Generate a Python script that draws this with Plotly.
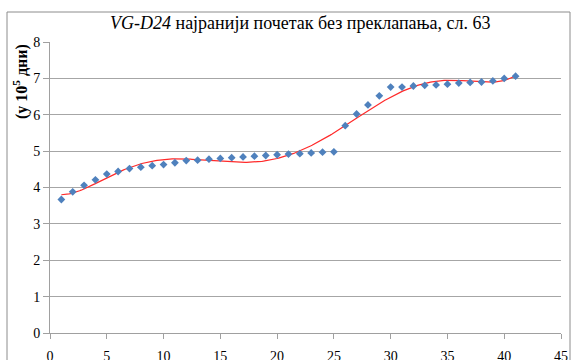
import numpy as np
import plotly.graph_objects as go

# Sequence number of the sample and measured value (in 10^5 days)
sample_no = list(range(1, 42))
values = [3.67, 3.88, 4.06, 4.21, 4.37, 4.44, 4.52, 4.56, 4.60, 4.63,
          4.68, 4.74, 4.75, 4.78, 4.80, 4.82, 4.84, 4.86, 4.88, 4.90,
          4.92, 4.93, 4.95, 4.97, 4.98, 5.70, 6.02, 6.27, 6.52, 6.76,
          6.76, 6.79, 6.81, 6.82, 6.84, 6.87, 6.89, 6.90, 6.93, 7.00,
          7.06]

x_ticks = list(range(0, 50, 5))
y_ticks = list(range(0, 9))

# 6th-order polynomial trend line through the measurements
coef = np.polyfit(sample_no, values, 6)
xs = np.linspace(1, 41, 300)
ys = np.polyval(coef, xs)

W, H = 571, 360
L, R, T, B = 50, 10, 42, 27
pw, ph = W - L - R, H - T - B


def px_x(p):
    return (p - L) / pw


def px_y(p):
    return (H - B - p) / ph


FONT = '"Liberation Serif", serif'

fig = go.Figure()
fig.add_trace(go.Scatter(
    x=xs, y=ys, mode="lines",
    line=dict(color="#ff2a2a", width=1.2),
    hoverinfo="skip", showlegend=False,
))
fig.add_trace(go.Scatter(
    x=sample_no, y=values, mode="markers",
    marker=dict(symbol="diamond", size=6, color="#4f81bd"),
    showlegend=False,
))

fig.update_layout(
    width=W, height=H,
    margin=dict(l=L, r=R, t=T, b=B),
    paper_bgcolor="white", plot_bgcolor="white",
    font=dict(family=FONT, size=14, color="black"),
    xaxis=dict(
        range=[0, 45], tickvals=x_ticks, showgrid=False, zeroline=False,
        showline=True, linecolor="#a0a0a0", linewidth=1,
        ticks="outside", ticklen=5, tickcolor="#a0a0a0",
        tickfont=dict(family=FONT, size=14), ticklabelstandoff=5,
        automargin=False,
    ),
    yaxis=dict(
        range=[0, 8], tickvals=y_ticks, showgrid=True, gridcolor="#a6a6a6",
        gridwidth=1, zeroline=False,
        showline=True, linecolor="#a0a0a0", linewidth=1,
        ticks="outside", ticklen=6, tickcolor="#a0a0a0",
        tickfont=dict(family=FONT, size=14), automargin=False,
    ),
    shapes=[dict(
        type="rect", xref="paper", yref="paper",
        x0=px_x(7), x1=px_x(570), y0=px_y(420), y1=px_y(12),
        line=dict(color="#8c8c8c", width=1), fillcolor="rgba(0,0,0,0)",
        layer="below",
    )],
    annotations=[
        dict(
            text="<i>VG-D24</i> најранији почетак без преклапања, сл. 63",
            xref="paper", yref="paper", x=px_x(300), y=px_y(23),
            showarrow=False, font=dict(family=FONT, size=18),
            xanchor="center", yanchor="middle",
        ),
        dict(
            text="<b>(у 10<sup>5</sup> дни)</b>",
            xref="paper", yref="paper", x=px_x(21), y=px_y(82),
            showarrow=False, textangle=-90, font=dict(family=FONT, size=16),
            xanchor="center", yanchor="middle",
        ),
    ],
)

fig.write_html("out.html")
